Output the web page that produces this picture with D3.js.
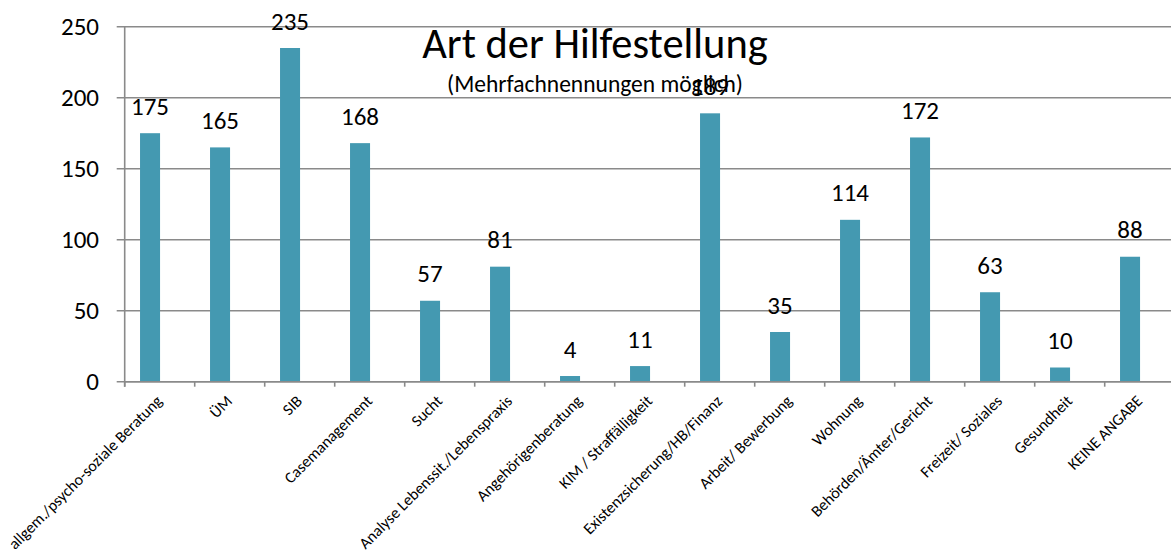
<!DOCTYPE html>
<html>
<head>
<meta charset="utf-8">
<script src="https://cdn.jsdelivr.net/npm/d3@7"></script>
<style>
  html, body { margin: 0; padding: 0; background: #fff; }
  svg { display: block; }
  text { font-family: Carlito, Calibri, Lato, sans-serif; fill: #000; }
</style>
</head>
<body>
<svg id="chart" width="1171" height="550"></svg>
<script>
const categories = [
  "allgem./psycho-soziale Beratung", "ÜM", "SIB", "Casemanagement", "Sucht",
  "Analyse Lebenssit./Lebenspraxis", "Angehörigenberatung", "KIM / Straffälligkeit",
  "Existenzsicherung/HB/Finanz", "Arbeit/ Bewerbung", "Wohnung", "Behörden/Ämter/Gericht",
  "Freizeit/ Soziales", "Gesundheit", "KEINE ANGABE"
];
const values = [175, 165, 235, 168, 57, 81, 4, 11, 189, 35, 114, 172, 63, 10, 88];
const yTicks = [0, 50, 100, 150, 200, 250];
const titleText = "Art der Hilfestellung";
const subtitleText = "(Mehrfachnennungen möglich)";

const svg = d3.select("#chart");
const W = 1171;

const x = d3.scaleBand().domain(categories).range([124.7, 1174.7]).paddingInner(0).paddingOuter(0);
const y = d3.scaleLinear().domain([0, 250]).range([381.7, 26.7]);
const bw = x.bandwidth();

// gridlines
svg.append("g").selectAll("line").data(yTicks).join("line")
  .attr("x1", 116.7).attr("x2", W)
  .attr("y1", d => y(d)).attr("y2", d => y(d))
  .attr("stroke", "#8a8a8a").attr("stroke-width", 1.6);

// y tick labels
svg.append("g").selectAll("text").data(yTicks).join("text")
  .attr("x", 99).attr("y", d => y(d)).attr("dy", "0.35em")
  .attr("text-anchor", "end").attr("font-size", 25)
  .text(d => d);

// y axis line
svg.append("line").attr("x1", 124.7).attr("x2", 124.7)
  .attr("y1", y(250)).attr("y2", y(0) + 5)
  .attr("stroke", "#8a8a8a").attr("stroke-width", 1.6);

// x tick marks at band boundaries
const bounds = categories.map(c => x(c)).concat([x(categories[categories.length - 1]) + bw]);
svg.append("g").selectAll("line").data(bounds).join("line")
  .attr("x1", d => d).attr("x2", d => d)
  .attr("y1", y(0)).attr("y2", y(0) + 5)
  .attr("stroke", "#8a8a8a").attr("stroke-width", 1.6);

// bars
svg.append("g").selectAll("rect").data(values).join("rect")
  .attr("x", (d, i) => x(categories[i]) + bw * 0.219)
  .attr("width", bw * 0.286)
  .attr("y", d => y(d))
  .attr("height", d => y(0) - y(d))
  .attr("fill", "#4499b1");

// value labels
svg.append("g").selectAll("text").data(values).join("text")
  .attr("x", (d, i) => x(categories[i]) + bw * 0.362)
  .attr("y", d => y(d) - 18.5)
  .attr("text-anchor", "middle").attr("font-size", 25)
  .text(d => d);

// x axis line
svg.append("line").attr("x1", 124.7).attr("x2", W)
  .attr("y1", y(0)).attr("y2", y(0))
  .attr("stroke", "#8a8a8a").attr("stroke-width", 1.6);

// x tick labels
svg.append("g").selectAll("text").data(categories).join("text")
  .attr("transform", c => `translate(${x(c) + bw / 2 + 3.5},402) rotate(-45)`)
  .attr("text-anchor", "end").attr("font-size", 16)
  .text(c => c);

// title
svg.append("text").attr("x", 595).attr("y", 57.5)
  .attr("text-anchor", "middle").attr("font-size", 42.5).text(titleText);
svg.append("text").attr("x", 595).attr("y", 92)
  .attr("text-anchor", "middle").attr("font-size", 23.5).text(subtitleText);
</script>
</body>
</html>
